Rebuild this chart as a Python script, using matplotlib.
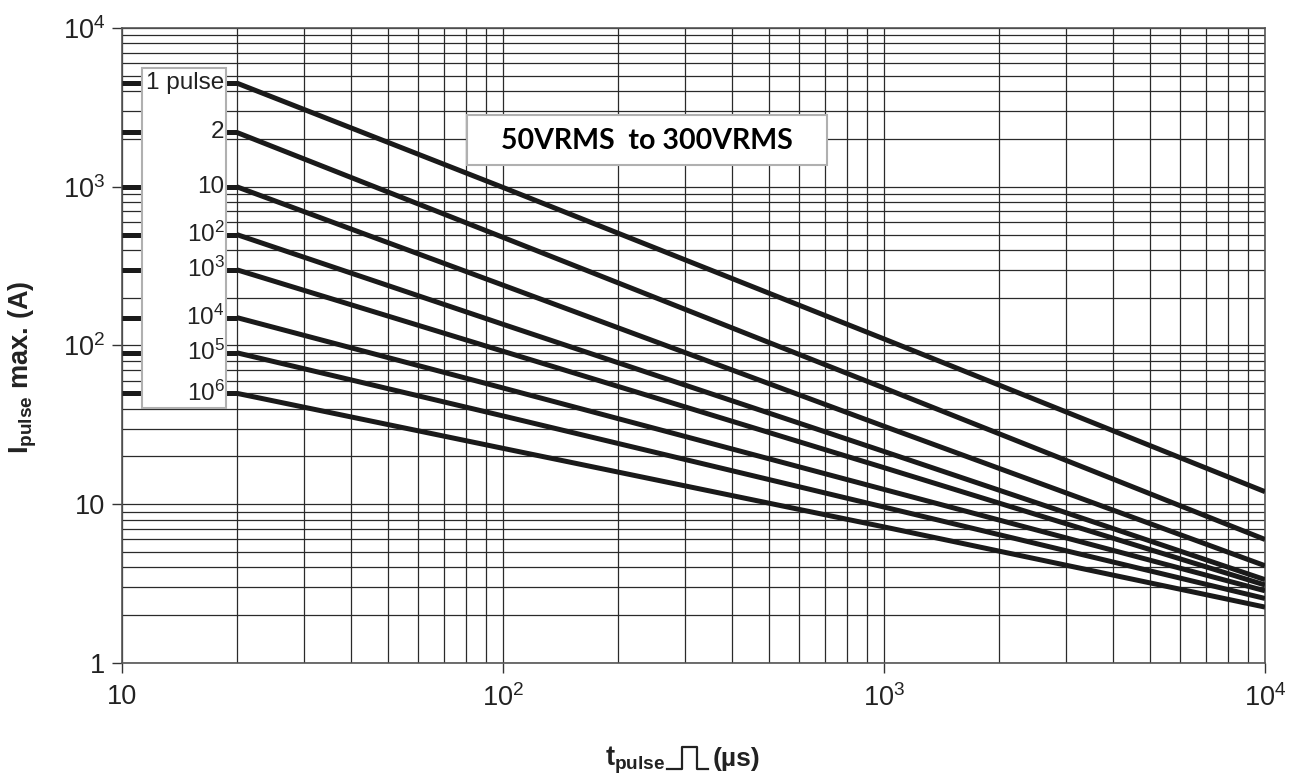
import numpy as np
import matplotlib
matplotlib.use("Agg")
import matplotlib.pyplot as plt
from matplotlib.lines import Line2D
from matplotlib.patches import Rectangle
from matplotlib.ticker import FixedLocator, FixedFormatter, LogLocator, NullFormatter
from matplotlib import font_manager

plt.rcParams['font.family'] = ['Liberation Sans', 'DejaVu Sans']
plt.rcParams['mathtext.fontset'] = 'custom'
plt.rcParams['mathtext.rm'] = 'Liberation Sans'
plt.rcParams['mathtext.it'] = 'Liberation Sans'
plt.rcParams['mathtext.bf'] = 'Liberation Sans:bold'

# pulse duration (us) where each curve was read
t_pulse = [20, 100, 1000, 10000]

# max pulse current (A) per number of pulses
curve_names = ['1 pulse', '2', '10', '10$^2$', '10$^3$', '10$^4$', '10$^5$', '10$^6$']
i_1 = [4500, 990, 110, 12.0]
i_2 = [2200, 480, 54, 6.0]
i_10 = [1000, 240, 31, 4.1]
i_1e2 = [500, 136, 21.5, 3.35]
i_1e3 = [300, 92, 17, 3.1]
i_1e4 = [150, 54, 12.4, 2.85]
i_1e5 = [90, 36, 9.6, 2.55]
i_1e6 = [50, 22.5, 7.2, 2.25]
curves = [i_1, i_2, i_10, i_1e2, i_1e3, i_1e4, i_1e5, i_1e6]

x_ticks = [10, 100, 1000, 10000]
x_labels = ['10', r'$10^2$', r'$10^3$', r'$10^4$']
y_ticks = [1, 10, 100, 1000, 10000]
y_labels = ['1', '10', r'$10^2$', r'$10^3$', r'$10^4$']

names = {f.name for f in font_manager.fontManager.ttflist}
narrow = 'Liberation Sans Narrow' if 'Liberation Sans Narrow' in names else 'Liberation Sans'
label_size = 19 if narrow == 'Liberation Sans Narrow' else 17.5

fig = plt.figure(figsize=(13.12, 7.81), dpi=100)
ax = fig.add_axes([122/1312, 1-663/781, 1143/1312, 635/781])
ax.set_xscale('log')
ax.set_yscale('log')
ax.set_xlim(10, 10000)
ax.set_ylim(1, 10000)

ax.grid(True, which='both', color='#2a2a2a', linewidth=0.9, zorder=0)
ax.xaxis.set_minor_locator(LogLocator(base=10, subs=np.arange(2, 10)))
ax.yaxis.set_minor_locator(LogLocator(base=10, subs=np.arange(2, 10)))
ax.xaxis.set_minor_formatter(NullFormatter())
ax.yaxis.set_minor_formatter(NullFormatter())
ax.tick_params(which='minor', length=0)
ax.xaxis.set_major_locator(FixedLocator(x_ticks))
ax.xaxis.set_major_formatter(FixedFormatter(x_labels))
ax.yaxis.set_major_locator(FixedLocator(y_ticks))
ax.yaxis.set_major_formatter(FixedFormatter(y_labels))
ax.tick_params(which='major', length=7, width=1, color='#333333',
               labelsize=19.5, labelcolor='#222222', direction='out')
ax.tick_params(axis='x', pad=8)
ax.tick_params(axis='y', pad=5)
for s in ax.spines.values():
    s.set_color('#555555')
    s.set_linewidth(1.2)
ax.set_axisbelow(True)

for vals in curves:
    ax.plot(t_pulse, vals, color='#1a1a1a', linewidth=3.6, solid_capstyle='butt', zorder=3)

# short leader marks next to the labels
starts = [c[0] for c in curves]
ax.hlines(starts, 10, t_pulse[0], color='#1a1a1a', linewidth=3.6, zorder=3)

# label box on the left
ax.add_patch(Rectangle((0.0175, 0.402), 0.0735, 0.535, transform=ax.transAxes,
                       facecolor='white', edgecolor='#b0b0b0', linewidth=1.5, zorder=4))
for name, v in zip(curve_names, starts):
    ax.text(18.6, v, name, ha='right', va='center', fontsize=label_size,
            family=[narrow, 'DejaVu Sans'], color='#222222', zorder=5)

# voltage note
ax.add_patch(Rectangle((0.302, 0.784), 0.315, 0.079, transform=ax.transAxes,
                       facecolor='white', edgecolor='#b0b0b0', linewidth=1.5, zorder=4))
ax.text(0.459, 0.822, '50VRMS  to 300VRMS', transform=ax.transAxes, ha='center', va='center',
        fontsize=20.5, fontweight='bold', family=['Lato', 'DejaVu Sans'], color='black', zorder=5)

# axis titles
fig.text(23/1312, 1-367/781, r'$\mathbf{I_{pulse}}$ max. (A)', rotation=90, ha='center', va='center',
         fontsize=19.5, fontweight='bold', color='#222222')
fig.text(665/1312, 1-766/781, r'$\mathbf{t_{pulse}}$', ha='right', va='baseline',
         fontsize=19.5, color='#222222')
fig.text(713/1312, 1-766/781, '(µs)', ha='left', va='baseline',
         fontsize=19, fontweight='bold', color='#222222')
px = np.array([667, 682, 682, 697, 697, 708])
py = np.array([769, 769, 747, 747, 769, 769])
fig.add_artist(Line2D(px/1312, 1-py/781, color='#222222', linewidth=1.6))

fig.savefig('out.png', dpi=100)
